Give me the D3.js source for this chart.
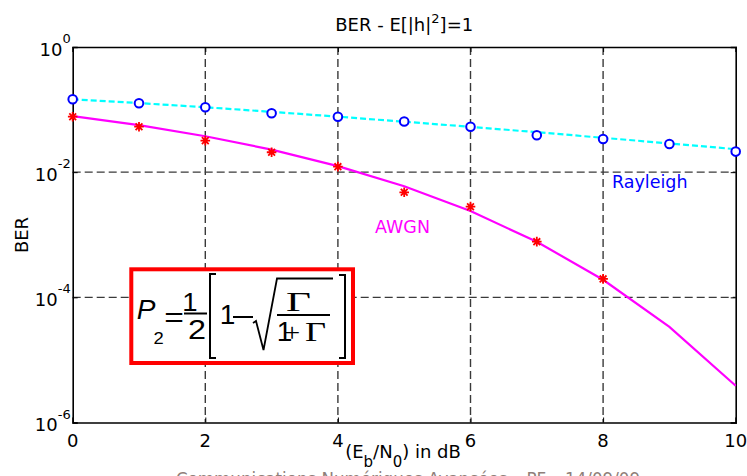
<!DOCTYPE html>
<html>
<head>
<meta charset="utf-8">
<script src="https://cdn.jsdelivr.net/npm/d3@7"></script>
<style>
  html, body { margin: 0; padding: 0; background: #fff; }
  svg { display: block; font-family: "DejaVu Sans", Verdana, sans-serif; }
</style>
</head>
<body>
<script>
// ---------- data ----------
const snrDb = [0, 1, 2, 3, 4, 5, 6, 7, 8, 9, 10];
const rayleighTheory = [0.146, 0.127, 0.109, 0.092, 0.077, 0.064, 0.053, 0.0435, 0.0354, 0.0288, 0.0233];
const rayleighSim = [0.146, 0.126, 0.1088, 0.0873, 0.077, 0.0646, 0.0533, 0.0389, 0.0339, 0.0282, 0.0213];
const awgnTheory = [0.0786, 0.0563, 0.0375, 0.0229, 0.0125, 0.00595, 0.00239, 0.000773, 0.000191, 0.0000336, 0.00000387];
const awgnSimDb = [0, 1, 2, 3, 4, 5, 6, 7, 8];
const awgnSim = [0.077, 0.0533, 0.0319, 0.0208, 0.01225, 0.00477, 0.00281, 0.000776, 0.000197];
const xTicks = [0, 2, 4, 6, 8, 10];
const yTickExps = [0, -2, -4, -6];
const titleText = ["BER - E[|h|", "2", "]=1"];
const footerText = "Communications Numériques Avancées – PF – 14/09/09";

// ---------- layout ----------
const W = 747, H = 476;
const pL = 72.7, pR = 735.7, pT = 47, pB = 422.5;

const svg = d3.select("body").append("svg").attr("width", W).attr("height", H);
svg.append("rect").attr("width", W).attr("height", H).attr("fill", "#fff");

const x = d3.scaleLinear().domain([0, 10]).range([pL, pR]);
const y = d3.scaleLog().domain([1e-6, 1]).range([pB, pT]);

// ---------- grid ----------
const grid = svg.append("g").attr("stroke", "#3a3a3a").attr("stroke-width", 1.4)
  .attr("stroke-dasharray", "8,4");
grid.selectAll("line.v").data(xTicks.filter(d => d > 0 && d < 10)).join("line").attr("class", "v")
  .attr("x1", d => x(d)).attr("x2", d => x(d)).attr("y1", pT).attr("y2", pB);
grid.selectAll("line.h").data(yTickExps.filter(e => e < 0 && e > -6)).join("line").attr("class", "h")
  .attr("x1", pL).attr("x2", pR).attr("y1", e => y(Math.pow(10, e))).attr("y2", e => y(Math.pow(10, e)));

// ---------- axes (box + inward ticks) ----------
const yVals = yTickExps.map(e => Math.pow(10, e));
const axB = d3.axisBottom(x).tickValues(xTicks).tickSize(-5).tickFormat("");
const axT = d3.axisTop(x).tickValues(xTicks).tickSize(-5).tickFormat("");
const axL = d3.axisLeft(y).tickValues(yVals).tickSize(-5).tickFormat("");
const axR = d3.axisRight(y).tickValues(yVals).tickSize(-5).tickFormat("");
[[axB, `translate(0,${pB})`], [axT, `translate(0,${pT})`], [axL, `translate(${pL},0)`], [axR, `translate(${pR},0)`]]
  .forEach(([ax, tr]) => {
    const g = svg.append("g").attr("transform", tr).call(ax);
    g.select(".domain").attr("stroke", "#000").attr("stroke-width", 1.6);
    g.selectAll(".tick line").attr("stroke", "#000").attr("stroke-width", 1);
  });

// tick labels
svg.append("g").selectAll("text").data(xTicks).join("text")
  .attr("x", d => x(d)).attr("y", pB + 24.5)
  .attr("text-anchor", "middle").attr("font-size", 18).attr("fill", "#000")
  .text(d => d);

const yl = svg.append("g").selectAll("text").data(yTickExps).join("text")
  .attr("x", pL - 2).attr("y", e => y(Math.pow(10, e)) + 8.5)
  .attr("text-anchor", "end").attr("font-size", 18).attr("fill", "#000");
yl.append("tspan").text("10");
yl.append("tspan").attr("font-size", 13).attr("dy", -12.5).text(e => e);

// title
const tt = svg.append("text").attr("x", (pL + pR) / 2).attr("y", 30.5)
  .attr("text-anchor", "middle").attr("font-size", 18).attr("fill", "#000");
tt.append("tspan").text(titleText[0]);
tt.append("tspan").attr("font-size", 13).attr("dy", -8).text(titleText[1]);
tt.append("tspan").attr("dy", 8).text(titleText[2]);

// axis labels
svg.append("text").attr("transform", "translate(28,235) rotate(-90)")
  .attr("text-anchor", "middle").attr("font-size", 18).attr("fill", "#000").text("BER");

const xl = svg.append("text").attr("x", 403).attr("y", 458)
  .attr("text-anchor", "middle").attr("font-size", 18).attr("fill", "#000");
xl.append("tspan").text("(E");
xl.append("tspan").attr("font-size", 15).attr("dy", 9).text("b");
xl.append("tspan").attr("dy", -9).text("/N");
xl.append("tspan").attr("font-size", 15).attr("dy", 9).text("0");
xl.append("tspan").attr("dy", -9).text(") in dB");

// footer (clipped by the window)
svg.append("text").attr("x", 176).attr("y", 485).attr("font-size", 18)
  .attr("fill", "#8f8079").attr("textLength", 464).attr("lengthAdjust", "spacingAndGlyphs")
  .text(footerText);

// ---------- formula box ----------
const fb = svg.append("g");
fb.append("rect").attr("x", 131.3).attr("y", 269.3).attr("width", 221.7).attr("height", 93.7)
  .attr("fill", "#fff").attr("stroke", "#ff0000").attr("stroke-width", 4);
const SANS = "'Liberation Sans', Arial, sans-serif";
const SERIF = "'Liberation Serif', 'Times New Roman', serif";
function glyph(t, cx, by, size, sx, family, italic) {
  fb.append("text").attr("transform", `translate(${cx},${by}) scale(${sx},1)`)
    .attr("text-anchor", "middle").attr("font-size", size)
    .style("font-family", family).style("font-style", italic ? "italic" : "normal")
    .attr("fill", "#000").text(t);
}
glyph("P", 146, 318.5, 28, 1.0, SANS, true);
glyph("2", 158.5, 343.5, 16, 1.15, SANS);
glyph("=", 174, 327, 28, 1.2, SANS);
glyph("1", 190, 310.5, 25, 1.1, SANS);
glyph("2", 197, 338.5, 27, 1.2, SANS);
glyph("1", 227.5, 323.5, 28, 1.0, SANS);
glyph("Γ", 298.5, 310.5, 27, 1.6, SERIF);
glyph("1", 284.5, 340.5, 28, 1.0, SANS);
glyph("+", 292, 340.5, 26, 1.1, SERIF);
glyph("Γ", 315.5, 340.5, 27, 1.35, SERIF);
const fp = fb.append("g").attr("fill", "none").attr("stroke", "#000").attr("stroke-width", 2);
fp.append("line").attr("x1", 184).attr("x2", 207).attr("y1", 313.5).attr("y2", 313.5);
fp.append("path").attr("d", "M216,274 H210 V358 H216");
fp.append("path").attr("d", "M339,275 H345 V358 H339");
fp.append("line").attr("x1", 233).attr("x2", 253).attr("y1", 317).attr("y2", 317);
fp.append("path").attr("d", "M253,323 L256,321 L263.5,350 L277,278.5 H333").attr("stroke-width", 1.8);
fp.append("line").attr("x1", 277).attr("x2", 330).attr("y1", 315).attr("y2", 315);

// ---------- series ----------
const rayLine = d3.line().x((d, i) => x(snrDb[i])).y(d => y(d));
svg.append("path").datum(rayleighTheory).attr("d", rayLine)
  .attr("fill", "none").attr("stroke", "#00ffff").attr("stroke-width", 2.2).attr("stroke-dasharray", "6,3");

const awgnLine = d3.line().x((d, i) => x(snrDb[i])).y(d => y(d));
svg.append("path").datum(awgnTheory).attr("d", awgnLine)
  .attr("fill", "none").attr("stroke", "#ff00ff").attr("stroke-width", 2.2);

// Matlab-style '*' marker: plus + cross
const r = 4.8, rd = 3.4;
const starPath = `M${-r},0H${r}M0,${-r}V${r}M${-rd},${-rd}L${rd},${rd}M${-rd},${rd}L${rd},${-rd}`;
svg.append("g").selectAll("path").data(awgnSim).join("path")
  .attr("transform", (d, i) => `translate(${x(awgnSimDb[i])},${y(d)})`)
  .attr("d", starPath).attr("fill", "none").attr("stroke", "#ff0000").attr("stroke-width", 1.8);

svg.append("g").selectAll("circle").data(rayleighSim).join("circle")
  .attr("cx", (d, i) => x(snrDb[i])).attr("cy", d => y(d)).attr("r", 4.3)
  .attr("fill", "#fff").attr("stroke", "#0000ff").attr("stroke-width", 2);

svg.append("text").attr("x", 612).attr("y", 187.5).attr("font-size", 17.5).attr("fill", "#0000ff").text("Rayleigh");
svg.append("text").attr("x", 375).attr("y", 233).attr("font-size", 17.5).attr("fill", "#ff00ff").text("AWGN");
</script>
</body>
</html>
